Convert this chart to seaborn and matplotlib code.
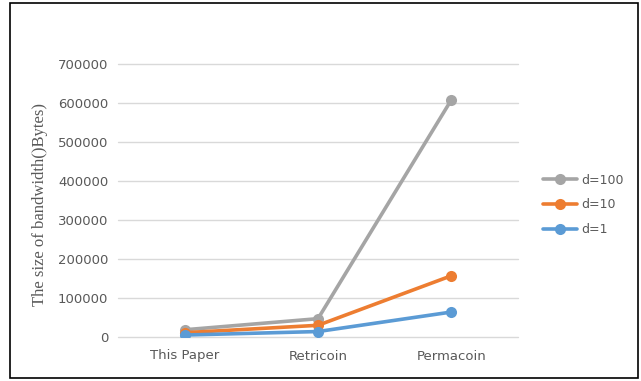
import matplotlib
matplotlib.use("Agg")
import matplotlib.pyplot as plt
from matplotlib.patches import Rectangle
import seaborn as sns
import pandas as pd

categories = ["This Paper", "Retricoin", "Permacoin"]
series_names = ["d=100", "d=10", "d=1"]
d100 = [18500, 47000, 608000]
d10 = [11000, 30000, 157000]
d1 = [5000, 14000, 64000]
yticks = [0, 100000, 200000, 300000, 400000, 500000, 600000, 700000]
colors = ["#A5A5A5", "#ED7D31", "#5B9BD5"]
ylabel = "The size of bandwidth()Bytes)"

rows = []
for name, vals in zip(series_names, [d100, d10, d1]):
    for c, v in zip(categories, vals):
        rows.append({"cat": c, "value": v, "series": name})
df = pd.DataFrame(rows)

sns.set_theme(style="white")
fig = plt.figure(figsize=(6.41, 3.81), dpi=100)
ax = fig.add_axes([118/641, 1-337/381, 400/641, 273/381])

ax.set_axisbelow(True)
sns.lineplot(data=df, x="cat", y="value", hue="series", hue_order=series_names,
             palette=colors, sort=False, marker="o", markersize=8,
             markeredgewidth=0, linewidth=2.6, ax=ax)

ax.set_xlim(-0.5, 2.5)
ax.set_ylim(0, 700000)
ax.set_yticks(yticks)
ax.set_yticklabels([str(t) for t in yticks])
ax.yaxis.grid(True, color="#D9D9D9", linewidth=1)
for gl in ax.get_ygridlines():
    gl.set_clip_on(False)
ax.xaxis.grid(False)
for s in ax.spines.values():
    s.set_visible(False)
ax.tick_params(axis="y", length=0, pad=7, labelsize=9.5, labelcolor="#595959")
ax.tick_params(axis="x", length=0, pad=9, labelsize=9.5, labelcolor="#595959")
ax.set_xlabel("")
ax.set_ylabel("")

fig.text(40/641, 1-205/381, ylabel, rotation=90, ha="center", va="center",
         fontsize=12, family="Liberation Serif", color="#595959")

handles, labels = ax.get_legend_handles_labels()
ax.legend(handles, labels, loc="center left", bbox_to_anchor=(532/641, 1-205/381),
          bbox_transform=fig.transFigure, frameon=False, fontsize=9,
          labelcolor="#595959", handlelength=2.7, handletextpad=0.35,
          labelspacing=0.95)

fig.add_artist(Rectangle((10/641, 3/381), 628/641, 375.5/381, transform=fig.transFigure,
                         fill=False, edgecolor="#000000", linewidth=1.2))

fig.savefig("out.png", dpi=100)
